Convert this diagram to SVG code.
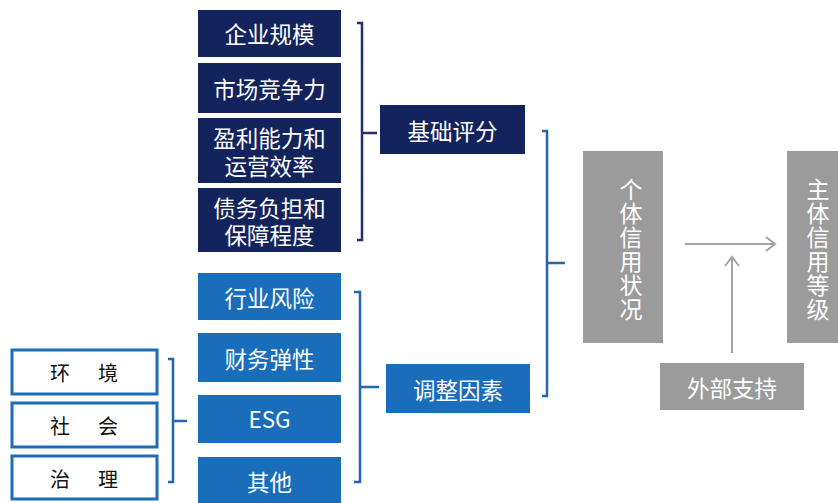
<svg xmlns="http://www.w3.org/2000/svg" width="838" height="503" viewBox="0 0 838 503">
<style>
text{font-family:"Noto Sans CJK SC","Noto Sans",sans-serif;dominant-baseline:central;text-anchor:middle}
.navy{fill:#13235b}
.blue{fill:#1a6dbb}
.gray{fill:#9b9b9b}
.wt{fill:#ffffff;font-size:22.5px}
.vt{fill:#ffffff;font-size:23px;writing-mode:vertical-rl;letter-spacing:1px}
.bt{fill:#111111;font-size:20px}
.out{fill:#ffffff;stroke:#1f6cb6;stroke-width:3}
.brn{fill:none;stroke:#1f3170;stroke-width:2.5}
.brb{fill:none;stroke:#2366b2;stroke-width:2.5}
.arr{fill:none;stroke:#a3a3a3;stroke-width:2}
</style>
<rect width="838" height="503" fill="#ffffff"/>
<g id="connectors">
<path class="brn" d="M357,23 H362 V240 H357 M362,133 H377"/>
<path class="brb" d="M542,131 H547 V396 H542 M547,263 H565"/>
<path class="brb" d="M354,292 H360 V482 H354 M360,387 H379"/>
<path class="brb" d="M168,359 H173 V482 H168 M173,421 H187"/>
<path class="arr" d="M685,244 H775 M766,237 L775,244 L766,251"/>
<path class="arr" d="M732,353 V257 M725,266 L732,257 L739,266"/>
</g>
<g id="n-qiye"><rect class="navy" x="198" y="10" width="143" height="47"/><text class="wt" x="269.5" y="33">企业规模</text></g>
<g id="n-shichang"><rect class="navy" x="198" y="63" width="143" height="50"/><text class="wt" x="269.5" y="88">市场竞争力</text></g>
<g id="n-yingli"><rect class="navy" x="198" y="118" width="143" height="65"/><text class="wt"><tspan x="269.5" y="137">盈利能力和</tspan><tspan x="269.5" y="165">运营效率</tspan></text></g>
<g id="n-zhaiwu"><rect class="navy" x="198" y="188" width="143" height="64"/><text class="wt"><tspan x="269.5" y="207">债务负担和</tspan><tspan x="269.5" y="234">保障程度</tspan></text></g>
<g id="n-jichu"><rect class="navy" x="380" y="105" width="145" height="49"/><text class="wt" x="452.5" y="129.5">基础评分</text></g>
<g id="n-hangye"><rect class="blue" x="198" y="273" width="143" height="47"/><text class="wt" x="269.5" y="297">行业风险</text></g>
<g id="n-caiwu"><rect class="blue" x="198" y="333" width="143" height="49"/><text class="wt" x="269.5" y="357.5">财务弹性</text></g>
<g id="n-esg"><rect class="blue" x="198" y="395" width="143" height="48"/><text class="wt" x="269.5" y="418">ESG</text></g>
<g id="n-qita"><rect class="blue" x="198" y="457" width="143" height="50"/><text class="wt" x="269.5" y="481">其他</text></g>
<g id="n-tiaozheng"><rect class="blue" x="386" y="364" width="144" height="49"/><text class="wt" x="458" y="388.5">调整因素</text></g>
<g id="n-huanjing"><rect class="out" x="12" y="350" width="145" height="44"/><text class="bt" y="372"><tspan x="60">环</tspan><tspan x="108">境</tspan></text></g>
<g id="n-shehui"><rect class="out" x="12" y="403" width="145" height="44"/><text class="bt" y="425"><tspan x="60">社</tspan><tspan x="108">会</tspan></text></g>
<g id="n-zhili"><rect class="out" x="12" y="456" width="145" height="43"/><text class="bt" y="477.5"><tspan x="60">治</tspan><tspan x="108">理</tspan></text></g>
<g id="n-geti"><rect class="gray" x="583" y="151" width="80" height="192"/><text class="vt" x="631" y="250">个体信用状况</text></g>
<g id="n-zhuti"><rect class="gray" x="787" y="151" width="60" height="192"/><text class="vt" x="818" y="250">主体信用等级</text></g>
<g id="n-waibu"><rect class="gray" x="660" y="363" width="144" height="47"/><text class="wt" x="732" y="386.5">外部支持</text></g>
</svg>
